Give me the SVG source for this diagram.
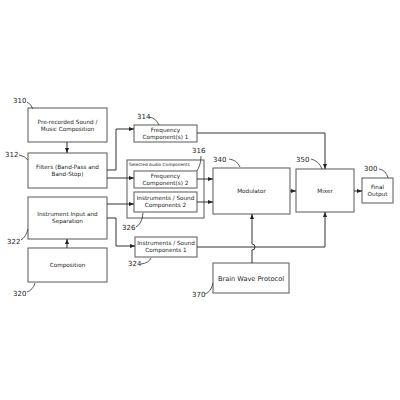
<svg xmlns="http://www.w3.org/2000/svg" width="400" height="400" viewBox="0 0 400 400">
<defs>
<marker id="ah" viewBox="0 0 10 10" refX="10" refY="5" markerWidth="5" markerHeight="5" orient="auto" markerUnits="userSpaceOnUse">
<path d="M0,1 L10,5 L0,9 z" fill="#222"/>
</marker>
<style>
.box{fill:#fff;stroke:#666;stroke-width:1.1}
.t{font-family:"DejaVu Sans",Verdana,sans-serif;font-size:5.7px;fill:#222;text-anchor:middle}
.n{font-family:"DejaVu Sans",Verdana,sans-serif;font-size:7px;fill:#222}
.c{fill:none;stroke:#333;stroke-width:1}
.ld{fill:none;stroke:#333;stroke-width:0.8}
</style>
</defs>
<rect width="400" height="400" fill="#fff"/>
<g id="n316">
<rect class="box" x="127" y="160" width="77" height="58"/>
<text x="129" y="166" style="font-family:'DejaVu Sans',sans-serif;font-size:4.3px;fill:#222">Selected Audio Components</text>
<text class="n" x="192" y="153">316</text>
<path class="ld" d="M201,156 Q201,166 196,172"/>
</g>
<g id="n310">
<rect class="box" x="28" y="108" width="79" height="34"/>
<text class="t" x="67.5" y="124">Pre-recorded Sound /</text>
<text class="t" x="67.5" y="131">Music Composition</text>
<text class="n" x="13" y="103">310</text>
<path class="ld" d="M27,102 Q31,104 33,109"/>
</g>
<g id="n312">
<rect class="box" x="28" y="153" width="79" height="35"/>
<text class="t" x="67.5" y="169">Filters (Band-Pass and</text>
<text class="t" x="67.5" y="176">Band-Stop)</text>
<text class="n" x="5" y="157">312</text>
<path class="ld" d="M19,155 Q25,156 28,160"/>
</g>
<g id="n322">
<rect class="box" x="28" y="197" width="79" height="42"/>
<text class="t" x="67.5" y="216">Instrument Input and</text>
<text class="t" x="67.5" y="223">Separation</text>
<text class="n" x="7" y="244">322</text>
<path class="ld" d="M21,240 Q26,237 28,229"/>
</g>
<g id="n320">
<rect class="box" x="28" y="248" width="79" height="34"/>
<text class="t" x="67.5" y="267">Composition</text>
<text class="n" x="13" y="296">320</text>
<path class="ld" d="M27,292 Q33,290 35,283"/>
</g>
<g id="n314">
<rect class="box" x="134" y="125" width="63" height="17"/>
<text class="t" x="165.5" y="132">Frequency</text>
<text class="t" x="165.5" y="139">Component(s) 1</text>
<text class="n" x="137" y="119">314</text>
<path class="ld" d="M149,117 Q156,118 159,125"/>
</g>
<g id="n316b">
<rect class="box" x="134" y="171" width="63" height="17"/>
<text class="t" x="165.5" y="178">Frequency</text>
<text class="t" x="165.5" y="185">Component(s) 2</text>
</g>
<g id="n326">
<rect class="box" x="134" y="192" width="63" height="20"/>
<text class="t" x="165.5" y="200">Instruments / Sound</text>
<text class="t" x="165.5" y="207">Components 2</text>
<text class="n" x="122" y="230">326</text>
<path class="ld" d="M136,227 Q142,224 143,213"/>
</g>
<g id="n324">
<rect class="box" x="135" y="237" width="62" height="20"/>
<text class="t" x="166" y="245">Instruments / Sound</text>
<text class="t" x="166" y="252">Components 1</text>
<text class="n" x="128" y="266">324</text>
<path class="ld" d="M141,264 Q149,263 151,258"/>
</g>
<g id="n340">
<rect class="box" x="213" y="168" width="77" height="46"/>
<text class="t" x="251.5" y="193">Modulator</text>
<text class="n" x="213" y="162">340</text>
<path class="ld" d="M229,159 Q237,160 240,167"/>
</g>
<g id="n350">
<rect class="box" x="296" y="169" width="58" height="43"/>
<text class="t" x="325" y="193">Mixer</text>
<text class="n" x="296" y="162">350</text>
<path class="ld" d="M311,159 Q319,161 322,169"/>
</g>
<g id="n300">
<rect class="box" x="362" y="178" width="31" height="25"/>
<text class="t" x="377.5" y="189">Final</text>
<text class="t" x="377.5" y="196">Output</text>
<text class="n" x="364" y="171">300</text>
<path class="ld" d="M379,169 Q386,170 388,178"/>
</g>
<g id="n370">
<rect class="box" x="213" y="263" width="76" height="30"/>
<text x="251" y="281" style="font-family:'DejaVu Sans',Verdana,sans-serif;font-size:6.6px;fill:#222;text-anchor:middle">Brain Wave Protocol</text>
<text class="n" x="192" y="297">370</text>
<path class="ld" d="M205,294 Q211,292 213,283"/>
</g>
<g id="connectors">
<path class="c" d="M67,142 V153" marker-end="url(#ah)"/>
<path class="c" d="M67,248 V239" marker-end="url(#ah)"/>
<path class="c" d="M107,170 H116 V129 H134" marker-end="url(#ah)"/>
<path class="c" d="M107,178 H134" marker-end="url(#ah)"/>
<path class="c" d="M107,204 H134" marker-end="url(#ah)"/>
<path class="c" d="M107,218 H116 V246 H135" marker-end="url(#ah)"/>
<path class="c" d="M197,133 H325 V169" marker-end="url(#ah)"/>
<path class="c" d="M197,179 H213" marker-end="url(#ah)"/>
<path class="c" d="M197,202 H213" marker-end="url(#ah)"/>
<path class="c" d="M197,247 H325 V212" marker-end="url(#ah)"/>
<path class="c" d="M252,263 V250 Q255,250 255,247 Q255,244 252,244 V214" marker-end="url(#ah)"/>
<path class="c" d="M290,191 H296" marker-end="url(#ah)"/>
<path class="c" d="M354,191 H362" marker-end="url(#ah)"/>
</g>
</svg>
